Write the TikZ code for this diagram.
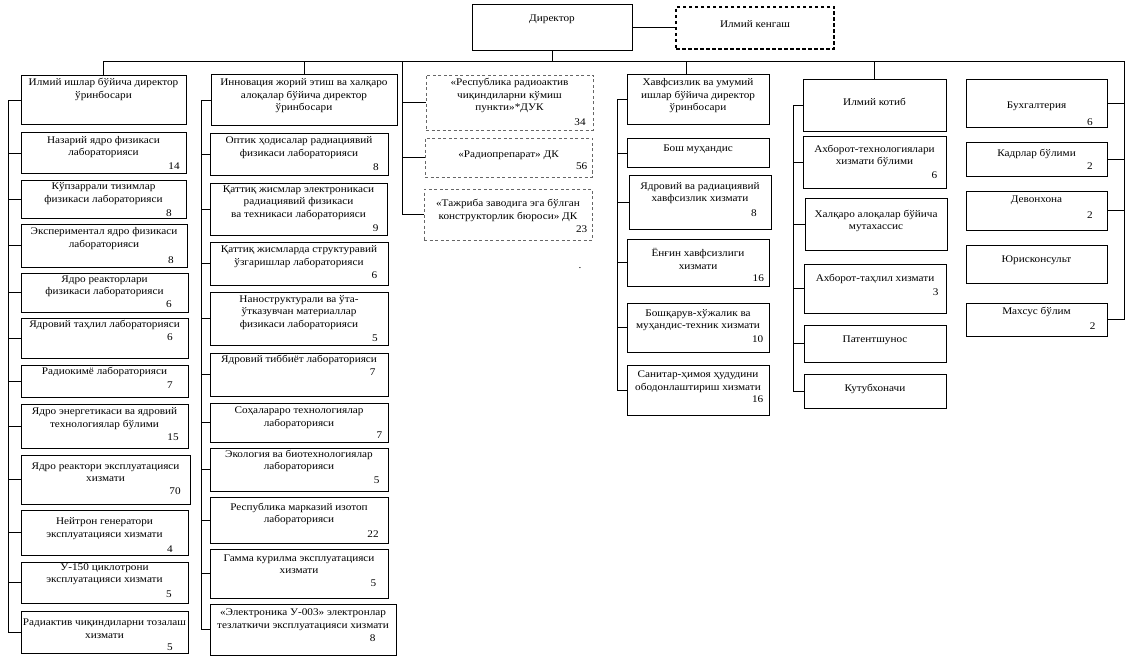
\documentclass[tikz,border=0pt]{standalone}
\usepackage{fontspec}
\setmainfont{Liberation Serif}[FakeStretch=1.1]
\usetikzlibrary{fit,calc}
\tikzset{
  ubox/.style={draw, line width=1pt, inner sep=0pt},
  dbox/.style={draw=black!60, line width=0.9pt, dash pattern=on 3pt off 2.5pt, inner sep=0pt},
  kbox/.style={draw, line width=1.3pt, dash pattern=on 3.5pt off 2.5pt, inner sep=0pt},
  txt/.style={font=\fontsize{10.2}{12.5}\selectfont, align=center, inner sep=0pt},
  num/.style={font=\fontsize{10.2}{12.5}\selectfont, inner sep=0pt},
  conn/.style={line width=1pt},
}
\newcommand\obox[8][]{%
  \coordinate (#2-tl) at (#3);
  \coordinate (#2-br) at (#4);
  \node[ubox,#1,fit=(#2-tl)(#2-br)] (#2) {};
  \coordinate (#2-ty) at (0,#5);
  \node[txt] (#2-t) at (#2.center |- #2-ty) {#6};
  \node[num] (#2-n) at (#7) {#8};
}
\begin{document}
\begin{tikzpicture}[x=1pt,y=-1pt]
\path[use as bounding box, fill=white] (0,0) rectangle (1131,663);

% top
\obox{dir}{472,5}{632,51}{19}{Директор}{0,0}{}
\obox[kbox]{ik}{676,7}{834,49}{24}{Илмий кенгаш}{0,0}{}

% column 1
\obox{c1h}{21,76}{186,125}{89.5}{Илмий ишлар бўйича директор\\ўринбосари}{0,0}{}
\obox{c1b1}{21,133}{186,174}{147}{Назарий ядро физикаси\\лабораторияси}{174,166}{14}
\obox{c1b2}{21,180}{186,218}{193.5}{Кўпзаррали тизимлар\\физикаси лабораторияси}{169,212.7}{8}
\obox{c1b3}{21,224}{187,267}{238.5}{Экспериментал ядро физикаси\\лабораторияси}{171,260}{8}
\obox{c1b4}{21,273}{188,312}{286}{Ядро реакторлари\\физикаси лабораторияси}{169,304}{6}
\obox{c1b5}{21,318}{188,358}{325}{Ядровий таҳлил лабораторияси}{170,337}{6}
\obox{c1b6}{21,365}{188,397}{371.7}{Радиокимё лабораторияси}{170,385}{7}
\obox{c1b7}{21,404}{188,448}{418.5}{Ядро энергетикаси ва ядровий\\технологиялар бўлими}{173,436.7}{15}
\obox{c1b8}{21,455}{190,504}{472}{Ядро реактори эксплуатацияси\\хизмати}{175,491}{70}
\obox{c1b9}{21,510}{188,555}{528.7}{Нейтрон генератори\\эксплуатацияси хизмати}{170,549}{4}
\obox{c1b10}{21,562}{188,603}{574}{У-150 циклотрони\\эксплуатацияси хизмати}{169,594}{5}
\obox{c1b11}{21,611}{188,653}{628.8}{Радиактив чиқиндиларни тозалаш\\хизмати}{170,647}{5}

% column 2
\obox{c2h}{211,75}{397,126}{96}{Инновация жорий этиш ва халқаро\\алоқалар бўйича директор\\ўринбосари}{0,0}{}
\obox{c2b1}{210,134}{388,176}{147.5}{Оптик ҳодисалар радиациявий\\физикаси лабораторияси}{376,166.7}{8}
\obox{c2b2}{210,183}{387,235}{202.5}{Қаттиқ жисмлар электроникаси\\радиациявий физикаси\\ва техникаси лабораторияси}{375.7,228}{9}
\obox{c2b3}{210,242}{388,285}{256.7}{Қаттиқ жисмларда структуравий\\ўзгаришлар лабораторияси}{374.3,275}{6}
\obox{c2b4}{210,292}{388,345}{312.5}{Наноструктурали ва ўта-\\ўтказувчан материаллар\\физикаси лабораторияси}{375,338.3}{5}
\obox{c2b5}{210,353}{388,396}{360}{Ядровий тиббиёт лабораторияси}{372.7,371.7}{7}
\obox{c2b6}{210,403}{388,442}{417.5}{Соҳалараро технологиялар\\лабораторияси}{379.3,435}{7}
\obox{c2b7}{210,448}{388,491}{461}{Экология ва биотехнологиялар\\лабораторияси}{376.7,480}{5}
\obox{c2b8}{210,497}{388,543}{513.7}{Республика марказий изотоп\\лабораторияси}{373,534}{22}
\obox{c2b9}{210,549}{388,598}{564}{Гамма курилма эксплуатацияси\\хизмати}{373.3,583}{5}
\obox{c2b10}{210,604}{396,655}{619.5}{«Электроника У-003» электронлар\\тезлаткичи эксплуатацияси хизмати}{372.7,638}{8}

% column 3 (dashed)
\obox[dbox]{d1}{426,75}{593,130}{95.8}{«Республика радиоактив\\чиқиндиларни кўмиш\\пункти»*ДУК}{580,121.7}{34}
\obox[dbox]{d2}{425,138}{592,177}{155}{«Радиопрепарат» ДК}{581.7,165.7}{56}
\obox[dbox]{d3}{424,189}{592,240}{210.5}{«Тажриба заводига эга бўлган\\конструкторлик бюроси» ДК}{581.7,229.3}{23}
\node[num] (dot) at (580,268) {.};

% column 4
\obox{c4h}{627,75}{769,125}{96}{Хавфсизлик ва умумий\\ишлар бўйича директор\\ўринбосари}{0,0}{}
\obox{c4b1}{627,139}{769,168}{149.3}{Бош муҳандис}{0,0}{}
\obox{c4b2}{629,176}{771,229}{193.3}{Ядровий ва радиациявий\\хавфсизлик хизмати}{754,212.7}{8}
\obox{c4b3}{627,239}{769,286}{258.8}{Ёнғин хавфсизлиги\\хизмати}{758.3,277.7}{16}
\obox{c4b4}{627,303}{769,352}{320.3}{Бошқарув-хўжалик ва\\муҳандис-техник хизмати}{757.7,339.3}{10}
\obox{c4b5}{627,365}{769,415}{381.5}{Санитар-ҳимоя ҳудудини\\ободонлаштириш хизмати}{757.7,399.3}{16}

% column 5
\obox{c5h}{803,80}{946,132}{101.7}{Илмий котиб}{0,0}{}
\obox{c5b1}{803,137}{946,188}{156}{Ахборот-технологиялари\\хизмати бўлими}{934.3,175}{6}
\obox{c5b2}{805,198}{947,250}{221}{Халқаро алоқалар бўйича\\мутахассис}{0,0}{}
\obox{c5b3}{804,264}{946,313}{279.3}{Ахборот-таҳлил хизмати}{935.7,291.7}{3}
\obox{c5b4}{804,325}{946,362}{340.7}{Патентшунос}{0,0}{}
\obox{c5b5}{804,374}{946,408}{389.3}{Кутубхоначи}{0,0}{}

% column 6
\obox{c6b1}{966,80}{1107,128}{106.7}{Бухгалтерия}{1090,121.7}{6}
\obox{c6b2}{966,143}{1107,177}{154}{Кадрлар бўлими}{1090,166}{2}
\obox{c6b3}{966,191}{1107,230}{200}{Девонхона}{1090,215}{2}
\obox{c6b4}{966,245}{1107,283}{260}{Юрисконсульт}{0,0}{}
\obox{c6b5}{966,303}{1107,336}{311.7}{Махсус бўлим}{1092.7,325.7}{2}

% connectors
\coordinate (bus) at (0,62);
\coordinate (c6sp) at (1124,62);
\coordinate (c3sp) at (402,62);
\coordinate (c4top) at (686,62);
\coordinate (c1sp) at (8,0);
\coordinate (c2sp) at (201,0);
\coordinate (c4sp) at (617,0);
\coordinate (c5sp) at (793,0);

\draw[conn] (dir.south) -- (dir.south |- bus);
\draw[conn] (dir.east) -- (ik.west);
\draw[conn] (c1h.north) |- (c6sp) -- (c6sp |- c6b5.east) -- (c6b5.east);
\draw[conn] (c2h.north) -- (c2h.north |- bus);
\draw[conn] (c4top) -- (c4top |- c4h.north);
\draw[conn] (c5h.north) -- (c5h.north |- bus);

\draw[conn] (c3sp) -- (c3sp |- d3.west) -- (d3.west);
\foreach \b in {d1,d2} \draw[conn] (c3sp |- \b.west) -- (\b.west);

\draw[conn] (c1sp |- c1h.west) -- (c1sp |- c1b11.west);
\foreach \b in {c1h,c1b1,c1b2,c1b3,c1b4,c1b5,c1b6,c1b7,c1b8,c1b9,c1b10,c1b11}
  \draw[conn] (c1sp |- \b.west) -- (\b.west);

\draw[conn] (c2sp |- c2h.west) -- (c2sp |- c2b10.west);
\foreach \b in {c2h,c2b1,c2b2,c2b3,c2b4,c2b5,c2b6,c2b7,c2b8,c2b9,c2b10}
  \draw[conn] (c2sp |- \b.west) -- (\b.west);

\draw[conn] (c4sp |- c4h.west) -- (c4sp |- c4b5.west);
\foreach \b in {c4h,c4b1,c4b2,c4b3,c4b4,c4b5}
  \draw[conn] (c4sp |- \b.west) -- (\b.west);

\draw[conn] (c5sp |- c5h.west) -- (c5sp |- c5b5.west);
\foreach \b in {c5h,c5b1,c5b2,c5b3,c5b4,c5b5}
  \draw[conn] (c5sp |- \b.west) -- (\b.west);

\foreach \b in {c6b1,c6b2,c6b3}
  \draw[conn] (\b.east) -- (c6sp |- \b.east);
\end{tikzpicture}
\end{document}
